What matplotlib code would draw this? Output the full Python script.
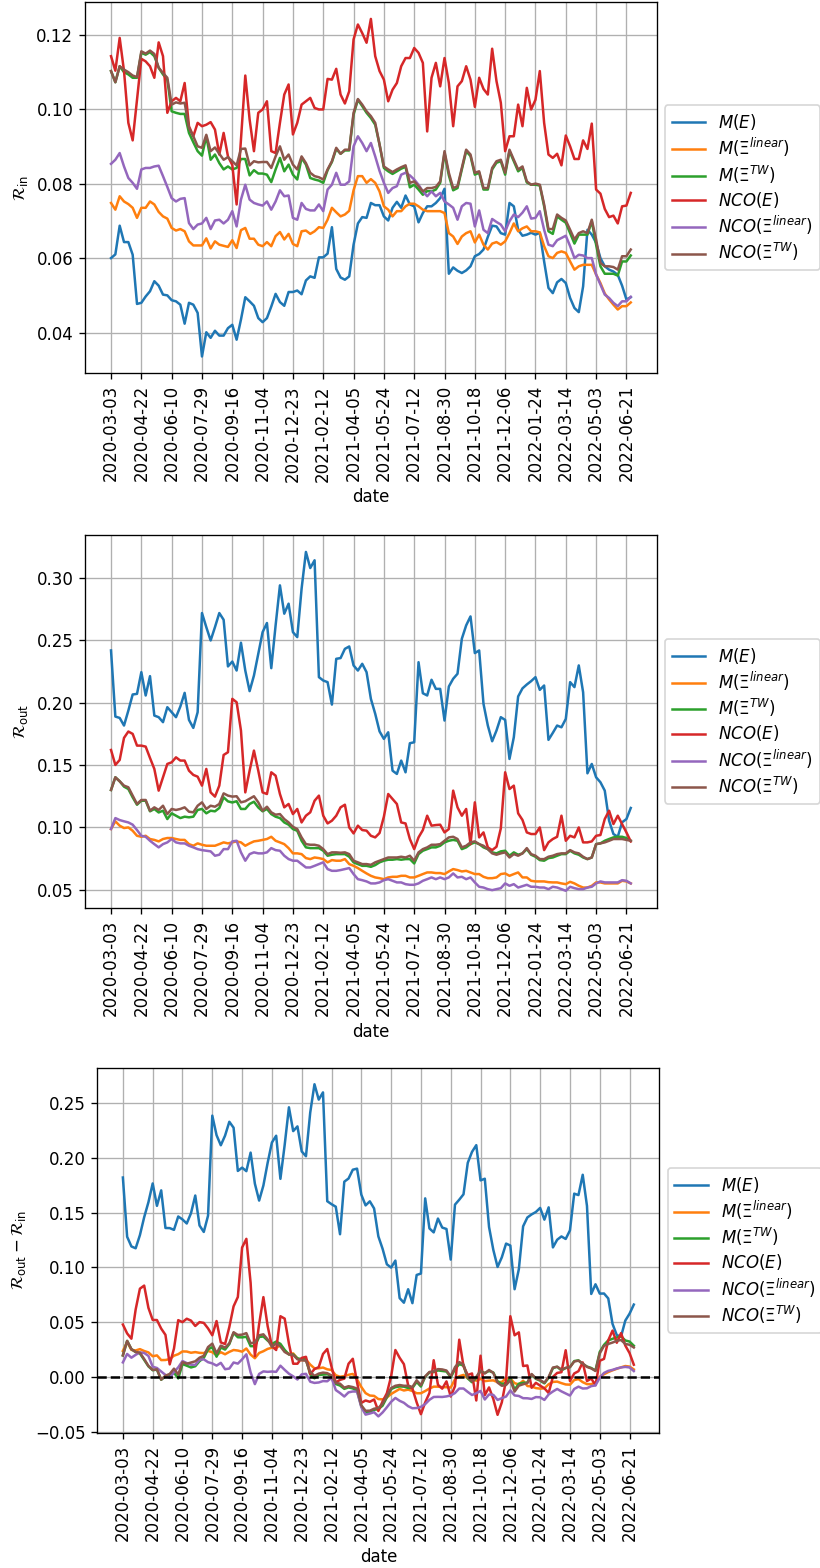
import numpy as np
import matplotlib.pyplot as plt

tick_dates = ['2020-03-03', '2020-04-22', '2020-06-10', '2020-07-29', '2020-09-16',
              '2020-11-04', '2020-12-23', '2021-02-12', '2021-04-05', '2021-05-24',
              '2021-07-12', '2021-08-30', '2021-10-18', '2021-12-06', '2022-01-24',
              '2022-03-14', '2022-05-03', '2022-06-21']

labels = [r'$M(E)$', r'$M(\Xi^{linear})$', r'$M(\Xi^{TW})$',
          r'$NCO(E)$', r'$NCO(\Xi^{linear})$', r'$NCO(\Xi^{TW})$']

# R_in, one value per week
m_e_in = [0.0600, 0.0610, 0.0687, 0.0643, 0.0643, 0.0609, 0.0477, 0.0480, 0.0497, 0.0511,
          0.0538, 0.0526, 0.0502, 0.0500, 0.0487, 0.0484, 0.0475, 0.0424, 0.0480, 0.0475,
          0.0453, 0.0336, 0.0401, 0.0386, 0.0405, 0.0392, 0.0392, 0.0412, 0.0421, 0.0381,
          0.0435, 0.0495, 0.0484, 0.0472, 0.0439, 0.0428, 0.0439, 0.0470, 0.0504, 0.0482,
          0.0472, 0.0509, 0.0509, 0.0513, 0.0503, 0.0540, 0.0551, 0.0547, 0.0602, 0.0602,
          0.0612, 0.0683, 0.0571, 0.0548, 0.0542, 0.0551, 0.0636, 0.0693, 0.0710, 0.0708,
          0.0748, 0.0742, 0.0742, 0.0712, 0.0701, 0.0735, 0.0751, 0.0735, 0.0768, 0.0744,
          0.0739, 0.0696, 0.0721, 0.0739, 0.0739, 0.0748, 0.0761, 0.0786, 0.0558, 0.0575,
          0.0566, 0.0560, 0.0567, 0.0578, 0.0605, 0.0611, 0.0623, 0.0657, 0.0687, 0.0685,
          0.0667, 0.0663, 0.0748, 0.0739, 0.0676, 0.0660, 0.0663, 0.0668, 0.0663, 0.0668,
          0.0591, 0.0520, 0.0506, 0.0535, 0.0544, 0.0533, 0.0493, 0.0466, 0.0455, 0.0524,
          0.0676, 0.0663, 0.0641, 0.0600, 0.0578, 0.0569, 0.0564, 0.0555, 0.0526, 0.0489,
          0.0495]
m_lin_in = [0.0748, 0.0730, 0.0766, 0.0752, 0.0745, 0.0735, 0.0708, 0.0735, 0.0735, 0.0752,
            0.0744, 0.0724, 0.0712, 0.0706, 0.0681, 0.0674, 0.0678, 0.0672, 0.0645, 0.0634,
            0.0634, 0.0634, 0.0653, 0.0626, 0.0645, 0.0636, 0.0633, 0.0630, 0.0648, 0.0627,
            0.0675, 0.0681, 0.0652, 0.0652, 0.0636, 0.0632, 0.0643, 0.0632, 0.0659, 0.0670,
            0.0650, 0.0665, 0.0638, 0.0632, 0.0672, 0.0674, 0.0665, 0.0672, 0.0683, 0.0681,
            0.0703, 0.0735, 0.0723, 0.0712, 0.0717, 0.0727, 0.0782, 0.0820, 0.0820, 0.0802,
            0.0812, 0.0802, 0.0779, 0.0739, 0.0730, 0.0712, 0.0726, 0.0726, 0.0739, 0.0746,
            0.0746, 0.0739, 0.0730, 0.0726, 0.0726, 0.0726, 0.0726, 0.0721, 0.0667, 0.0658,
            0.0638, 0.0658, 0.0667, 0.0672, 0.0642, 0.0663, 0.0636, 0.0623, 0.0639, 0.0643,
            0.0636, 0.0645, 0.0667, 0.0693, 0.0672, 0.0680, 0.0685, 0.0672, 0.0672, 0.0669,
            0.0632, 0.0605, 0.0600, 0.0614, 0.0618, 0.0614, 0.0591, 0.0569, 0.0578, 0.0582,
            0.0582, 0.0582, 0.0556, 0.0533, 0.0505, 0.0489, 0.0475, 0.0462, 0.0471, 0.0471,
            0.0481]
m_tw_in = [0.1102, 0.1072, 0.1115, 0.1099, 0.1093, 0.1084, 0.1084, 0.1151, 0.1146, 0.1153,
           0.1142, 0.1111, 0.1093, 0.1079, 0.0994, 0.0990, 0.0987, 0.0987, 0.0936, 0.0911,
           0.0887, 0.0875, 0.0927, 0.0864, 0.0878, 0.0855, 0.0838, 0.0846, 0.0838, 0.0842,
           0.0866, 0.0866, 0.0822, 0.0836, 0.0827, 0.0827, 0.0824, 0.0804, 0.0838, 0.0869,
           0.0833, 0.0851, 0.0824, 0.0811, 0.0869, 0.0851, 0.0815, 0.0811, 0.0808, 0.0802,
           0.0836, 0.0858, 0.0893, 0.0880, 0.0889, 0.0889, 0.0985, 0.1025, 0.1008, 0.0990,
           0.0976, 0.0958, 0.0905, 0.0842, 0.0833, 0.0826, 0.0833, 0.0840, 0.0845, 0.0790,
           0.0797, 0.0784, 0.0770, 0.0780, 0.0779, 0.0784, 0.0802, 0.0882, 0.0822, 0.0782,
           0.0788, 0.0838, 0.0887, 0.0874, 0.0824, 0.0829, 0.0784, 0.0784, 0.0838, 0.0856,
           0.0860, 0.0824, 0.0887, 0.0860, 0.0833, 0.0842, 0.0803, 0.0797, 0.0797, 0.0795,
           0.0739, 0.0672, 0.0665, 0.0712, 0.0703, 0.0695, 0.0667, 0.0639, 0.0663, 0.0663,
           0.0663, 0.0699, 0.0636, 0.0578, 0.0558, 0.0558, 0.0558, 0.0553, 0.0591, 0.0591,
           0.0607]
nco_e_in = [0.1142, 0.1103, 0.1191, 0.1102, 0.0963, 0.0916, 0.1025, 0.1135, 0.1128, 0.1115,
            0.1084, 0.1179, 0.1142, 0.0990, 0.1021, 0.1030, 0.1021, 0.1070, 0.0954, 0.0927,
            0.0963, 0.0954, 0.0958, 0.0965, 0.0945, 0.0878, 0.0936, 0.0873, 0.0850, 0.0744,
            0.0918, 0.1090, 0.0972, 0.0887, 0.0990, 0.0999, 0.1021, 0.0887, 0.0882, 0.0963,
            0.1039, 0.1066, 0.0932, 0.0963, 0.1012, 0.1021, 0.1030, 0.1003, 0.0999, 0.0999,
            0.1081, 0.1079, 0.1108, 0.1039, 0.1015, 0.1048, 0.1187, 0.1227, 0.1204, 0.1178,
            0.1242, 0.1142, 0.1102, 0.1079, 0.1021, 0.1052, 0.1070, 0.1115, 0.1137, 0.1137,
            0.1164, 0.1151, 0.1124, 0.0940, 0.1084, 0.1124, 0.1061, 0.1137, 0.1070, 0.0954,
            0.1061, 0.1075, 0.1115, 0.1079, 0.1006, 0.1084, 0.1054, 0.1039, 0.1162, 0.1075,
            0.1017, 0.0887, 0.0927, 0.0927, 0.1012, 0.0954, 0.1057, 0.0999, 0.1025, 0.1102,
            0.0963, 0.0878, 0.0869, 0.0880, 0.0849, 0.0929, 0.0900, 0.0866, 0.0866, 0.0916,
            0.0893, 0.0961, 0.0784, 0.0773, 0.0732, 0.0710, 0.0714, 0.0693, 0.0739, 0.0741,
            0.0775]
nco_lin_in = [0.0853, 0.0864, 0.0882, 0.0846, 0.0815, 0.0802, 0.0786, 0.0838, 0.0842, 0.0842,
              0.0846, 0.0848, 0.0820, 0.0791, 0.0761, 0.0752, 0.0759, 0.0761, 0.0694, 0.0678,
              0.0690, 0.0693, 0.0708, 0.0678, 0.0701, 0.0703, 0.0693, 0.0703, 0.0726, 0.0685,
              0.0757, 0.0797, 0.0757, 0.0748, 0.0744, 0.0741, 0.0752, 0.0730, 0.0752, 0.0782,
              0.0766, 0.0768, 0.0708, 0.0703, 0.0748, 0.0732, 0.0728, 0.0728, 0.0744, 0.0726,
              0.0784, 0.0797, 0.0829, 0.0797, 0.0797, 0.0806, 0.0900, 0.0927, 0.0909, 0.0887,
              0.0909, 0.0873, 0.0834, 0.0802, 0.0775, 0.0788, 0.0793, 0.0824, 0.0829, 0.0822,
              0.0811, 0.0797, 0.0779, 0.0766, 0.0779, 0.0766, 0.0775, 0.0752, 0.0744, 0.0735,
              0.0703, 0.0739, 0.0748, 0.0746, 0.0685, 0.0728, 0.0676, 0.0667, 0.0705, 0.0697,
              0.0690, 0.0672, 0.0699, 0.0717, 0.0710, 0.0722, 0.0739, 0.0706, 0.0708, 0.0726,
              0.0676, 0.0636, 0.0632, 0.0648, 0.0654, 0.0660, 0.0632, 0.0600, 0.0609, 0.0607,
              0.0600, 0.0600, 0.0556, 0.0529, 0.0502, 0.0493, 0.0480, 0.0471, 0.0484, 0.0484,
              0.0496]
nco_tw_in = [0.1102, 0.1072, 0.1115, 0.1106, 0.1099, 0.1090, 0.1086, 0.1155, 0.1149, 0.1157,
             0.1148, 0.1111, 0.1097, 0.1084, 0.1012, 0.1018, 0.1015, 0.1017, 0.0949, 0.0927,
             0.0900, 0.0896, 0.0931, 0.0887, 0.0897, 0.0880, 0.0864, 0.0871, 0.0860, 0.0849,
             0.0893, 0.0894, 0.0849, 0.0860, 0.0857, 0.0858, 0.0858, 0.0842, 0.0873, 0.0900,
             0.0864, 0.0878, 0.0851, 0.0838, 0.0873, 0.0855, 0.0829, 0.0820, 0.0817, 0.0811,
             0.0838, 0.0860, 0.0896, 0.0880, 0.0891, 0.0891, 0.0990, 0.1027, 0.1012, 0.0994,
             0.0981, 0.0963, 0.0905, 0.0846, 0.0838, 0.0831, 0.0838, 0.0844, 0.0849, 0.0802,
             0.0806, 0.0793, 0.0779, 0.0788, 0.0788, 0.0791, 0.0806, 0.0887, 0.0829, 0.0788,
             0.0793, 0.0842, 0.0891, 0.0878, 0.0829, 0.0833, 0.0788, 0.0788, 0.0842, 0.0860,
             0.0864, 0.0829, 0.0891, 0.0864, 0.0838, 0.0846, 0.0806, 0.0797, 0.0800, 0.0797,
             0.0744, 0.0678, 0.0678, 0.0717, 0.0708, 0.0701, 0.0676, 0.0650, 0.0667, 0.0672,
             0.0667, 0.0703, 0.0650, 0.0587, 0.0578, 0.0578, 0.0576, 0.0569, 0.0605, 0.0605,
             0.0623]

# R_out
m_e_out = [0.2419, 0.1889, 0.1878, 0.1817, 0.1937, 0.2066, 0.2071, 0.2245, 0.2058, 0.2213,
           0.1897, 0.1884, 0.1844, 0.1964, 0.1924, 0.1884, 0.1969, 0.2079, 0.1862, 0.1798,
           0.1924, 0.2719, 0.2606, 0.2499, 0.2606, 0.2719, 0.2665, 0.2291, 0.2330, 0.2258,
           0.2481, 0.2258, 0.2093, 0.2218, 0.2392, 0.2566, 0.2639, 0.2277, 0.2620, 0.2941,
           0.2714, 0.2794, 0.2566, 0.2526, 0.2914, 0.3209, 0.3080, 0.3142, 0.2205, 0.2178,
           0.2165, 0.1985, 0.2352, 0.2358, 0.2432, 0.2451, 0.2299, 0.2258, 0.2312, 0.2245,
           0.2031, 0.1911, 0.1770, 0.1710, 0.1763, 0.1455, 0.1429, 0.1536, 0.1442, 0.1675,
           0.1683, 0.2325, 0.2076, 0.2058, 0.2184, 0.2111, 0.2111, 0.1857, 0.2130, 0.2192,
           0.2232, 0.2513, 0.2620, 0.2692, 0.2398, 0.2419, 0.1991, 0.1817, 0.1691, 0.1777,
           0.1884, 0.1862, 0.1549, 0.1723, 0.2050, 0.2115, 0.2146, 0.2173, 0.2205, 0.2103,
           0.2138, 0.1702, 0.1758, 0.1817, 0.1803, 0.1870, 0.2165, 0.2125, 0.2299, 0.2084,
           0.1434, 0.1509, 0.1402, 0.1362, 0.1295, 0.1054, 0.0947, 0.0925, 0.1041, 0.1067,
           0.1156]
m_lin_out = [0.0987, 0.1049, 0.1014, 0.0995, 0.1000, 0.0973, 0.0933, 0.0925, 0.0933, 0.0907,
             0.0900, 0.0888, 0.0907, 0.0915, 0.0915, 0.0907, 0.0900, 0.0900, 0.0866, 0.0853,
             0.0872, 0.0861, 0.0853, 0.0853, 0.0853, 0.0866, 0.0880, 0.0872, 0.0880, 0.0888,
             0.0880, 0.0853, 0.0872, 0.0888, 0.0893, 0.0900, 0.0907, 0.0925, 0.0893, 0.0880,
             0.0866, 0.0834, 0.0792, 0.0792, 0.0786, 0.0754, 0.0746, 0.0759, 0.0754, 0.0746,
             0.0720, 0.0738, 0.0733, 0.0733, 0.0746, 0.0706, 0.0692, 0.0674, 0.0652, 0.0631,
             0.0612, 0.0599, 0.0593, 0.0585, 0.0599, 0.0604, 0.0604, 0.0612, 0.0612, 0.0599,
             0.0599, 0.0612, 0.0626, 0.0639, 0.0639, 0.0634, 0.0634, 0.0626, 0.0647, 0.0666,
             0.0658, 0.0647, 0.0652, 0.0639, 0.0626, 0.0626, 0.0604, 0.0593, 0.0593, 0.0599,
             0.0626, 0.0631, 0.0612, 0.0626, 0.0639, 0.0599, 0.0599, 0.0572, 0.0567, 0.0567,
             0.0567, 0.0561, 0.0559, 0.0559, 0.0551, 0.0545, 0.0564, 0.0551, 0.0532, 0.0518,
             0.0518, 0.0532, 0.0559, 0.0559, 0.0551, 0.0551, 0.0551, 0.0551, 0.0572, 0.0567,
             0.0551]
m_tw_out = [0.1300, 0.1402, 0.1370, 0.1327, 0.1308, 0.1241, 0.1182, 0.1214, 0.1214, 0.1129,
            0.1148, 0.1120, 0.1134, 0.1067, 0.1113, 0.1094, 0.1075, 0.1086, 0.1081, 0.1086,
            0.1140, 0.1148, 0.1113, 0.1134, 0.1129, 0.1156, 0.1241, 0.1209, 0.1200, 0.1210,
            0.1148, 0.1148, 0.1188, 0.1206, 0.1160, 0.1129, 0.1148, 0.1107, 0.1086, 0.1075,
            0.1040, 0.1022, 0.0987, 0.0973, 0.0893, 0.0840, 0.0834, 0.0834, 0.0834, 0.0813,
            0.0773, 0.0781, 0.0786, 0.0786, 0.0786, 0.0765, 0.0720, 0.0706, 0.0692, 0.0692,
            0.0684, 0.0698, 0.0720, 0.0733, 0.0741, 0.0741, 0.0746, 0.0741, 0.0746, 0.0746,
            0.0711, 0.0786, 0.0813, 0.0826, 0.0840, 0.0840, 0.0853, 0.0880, 0.0893, 0.0900,
            0.0893, 0.0826, 0.0840, 0.0866, 0.0880, 0.0866, 0.0840, 0.0826, 0.0800, 0.0792,
            0.0808, 0.0813, 0.0773, 0.0800, 0.0781, 0.0792, 0.0826, 0.0781, 0.0765, 0.0738,
            0.0733, 0.0754, 0.0759, 0.0773, 0.0786, 0.0786, 0.0813, 0.0792, 0.0781, 0.0759,
            0.0746, 0.0759, 0.0866, 0.0872, 0.0893, 0.0907, 0.0920, 0.0925, 0.0925, 0.0915,
            0.0893]
nco_e_out = [0.1621, 0.1501, 0.1541, 0.1718, 0.1769, 0.1750, 0.1656, 0.1656, 0.1648, 0.1557,
             0.1469, 0.1295, 0.1402, 0.1509, 0.1522, 0.1562, 0.1536, 0.1536, 0.1455, 0.1421,
             0.1407, 0.1335, 0.1469, 0.1281, 0.1247, 0.1335, 0.1581, 0.1603, 0.2031, 0.2004,
             0.1777, 0.1281, 0.1455, 0.1616, 0.1455, 0.1281, 0.1268, 0.1442, 0.1415, 0.1268,
             0.1161, 0.1188, 0.1107, 0.1148, 0.1040, 0.1094, 0.1121, 0.1214, 0.1255, 0.1094,
             0.1032, 0.1054, 0.1094, 0.1161, 0.1182, 0.1000, 0.0952, 0.1014, 0.0979, 0.0974,
             0.0933, 0.0920, 0.0955, 0.1086, 0.1268, 0.1228, 0.1188, 0.1040, 0.1032, 0.0907,
             0.0826, 0.0920, 0.0979, 0.1094, 0.1014, 0.1019, 0.1022, 0.0960, 0.0987, 0.1295,
             0.1161, 0.1094, 0.1148, 0.0866, 0.1201, 0.0920, 0.0960, 0.0840, 0.0818, 0.0845,
             0.0992, 0.1442, 0.1308, 0.1335, 0.1113, 0.1060, 0.0960, 0.0947, 0.0947, 0.1000,
             0.0818, 0.0880, 0.0907, 0.0925, 0.1094, 0.0893, 0.0933, 0.0920, 0.1000, 0.0880,
             0.0880, 0.0888, 0.0933, 0.0939, 0.1067, 0.1134, 0.1027, 0.1094, 0.1027, 0.0960,
             0.0888]
nco_lin_out = [0.0987, 0.1075, 0.1059, 0.1049, 0.1040, 0.1022, 0.0979, 0.0933, 0.0925, 0.0893,
               0.0866, 0.0840, 0.0866, 0.0880, 0.0907, 0.0880, 0.0872, 0.0872, 0.0853, 0.0840,
               0.0826, 0.0818, 0.0813, 0.0808, 0.0773, 0.0781, 0.0826, 0.0826, 0.0888, 0.0893,
               0.0800, 0.0733, 0.0786, 0.0800, 0.0792, 0.0792, 0.0800, 0.0834, 0.0818, 0.0813,
               0.0773, 0.0746, 0.0733, 0.0733, 0.0706, 0.0679, 0.0679, 0.0692, 0.0706, 0.0720,
               0.0666, 0.0652, 0.0652, 0.0658, 0.0666, 0.0674, 0.0626, 0.0585, 0.0577, 0.0567,
               0.0551, 0.0551, 0.0559, 0.0577, 0.0585, 0.0572, 0.0559, 0.0559, 0.0545, 0.0540,
               0.0540, 0.0551, 0.0572, 0.0585, 0.0599, 0.0585, 0.0599, 0.0585, 0.0599, 0.0631,
               0.0599, 0.0604, 0.0585, 0.0599, 0.0559, 0.0524, 0.0518, 0.0505, 0.0497, 0.0505,
               0.0513, 0.0551, 0.0532, 0.0545, 0.0518, 0.0529, 0.0540, 0.0524, 0.0524, 0.0518,
               0.0518, 0.0505, 0.0524, 0.0518, 0.0505, 0.0492, 0.0524, 0.0513, 0.0505, 0.0505,
               0.0518, 0.0524, 0.0551, 0.0567, 0.0559, 0.0559, 0.0559, 0.0559, 0.0577, 0.0572,
               0.0551]
nco_tw_out = [0.1300, 0.1402, 0.1370, 0.1335, 0.1322, 0.1255, 0.1188, 0.1220, 0.1220, 0.1134,
              0.1161, 0.1140, 0.1174, 0.1107, 0.1148, 0.1140, 0.1148, 0.1161, 0.1126, 0.1121,
              0.1174, 0.1201, 0.1148, 0.1174, 0.1166, 0.1188, 0.1273, 0.1255, 0.1247, 0.1250,
              0.1201, 0.1210, 0.1230, 0.1250, 0.1201, 0.1134, 0.1166, 0.1121, 0.1102, 0.1107,
              0.1067, 0.1040, 0.1005, 0.0987, 0.0920, 0.0866, 0.0861, 0.0861, 0.0853, 0.0826,
              0.0786, 0.0800, 0.0800, 0.0797, 0.0800, 0.0786, 0.0733, 0.0720, 0.0706, 0.0706,
              0.0700, 0.0720, 0.0733, 0.0746, 0.0759, 0.0759, 0.0759, 0.0765, 0.0759, 0.0773,
              0.0733, 0.0800, 0.0826, 0.0840, 0.0861, 0.0861, 0.0866, 0.0893, 0.0920, 0.0925,
              0.0907, 0.0840, 0.0853, 0.0880, 0.0888, 0.0866, 0.0853, 0.0826, 0.0792, 0.0781,
              0.0792, 0.0800, 0.0759, 0.0786, 0.0773, 0.0792, 0.0834, 0.0786, 0.0773, 0.0746,
              0.0746, 0.0765, 0.0773, 0.0786, 0.0792, 0.0792, 0.0818, 0.0800, 0.0792, 0.0765,
              0.0746, 0.0759, 0.0866, 0.0872, 0.0880, 0.0893, 0.0907, 0.0907, 0.0907, 0.0900,
              0.0893]

r_in = [m_e_in, m_lin_in, m_tw_in, nco_e_in, nco_lin_in, nco_tw_in]
r_out = [m_e_out, m_lin_out, m_tw_out, nco_e_out, nco_lin_out, nco_tw_out]
r_diff = [np.array(o) - np.array(i) for o, i in zip(r_out, r_in)]

x = np.arange(len(m_e_in))


def plot_panel(ax, series, ylabel):
    for values, label in zip(series, labels):
        ax.plot(x, values, label=label)
    ax.set_xticks(x[::7])
    ax.set_xticklabels(tick_dates, rotation=90)
    ax.set_xlabel('date')
    ax.set_ylabel(ylabel)
    ax.grid(True)
    ax.legend(loc='center left', bbox_to_anchor=(1, 0.5), labelspacing=0.25)


# drawn at 120 dpi so text and lines come out at the reference scale
fig = plt.figure(figsize=(820 / 120, 1568 / 120), dpi=120)
ax1 = fig.add_axes([0.1037, 0.7619, 0.6972, 0.2368])
ax2 = fig.add_axes([0.1037, 0.4211, 0.6972, 0.2377])
ax3 = fig.add_axes([0.1187, 0.0861, 0.6854, 0.2330])

plot_panel(ax1, r_in, r'$\mathcal{R}_{\rm in}$')
plot_panel(ax2, r_out, r'$\mathcal{R}_{\rm out}$')
plot_panel(ax3, r_diff, r'$\mathcal{R}_{\rm out} - \mathcal{R}_{\rm in}$')
ax3.axhline(0, color='black', linestyle='--')

fig.savefig('out.png', dpi=120)
